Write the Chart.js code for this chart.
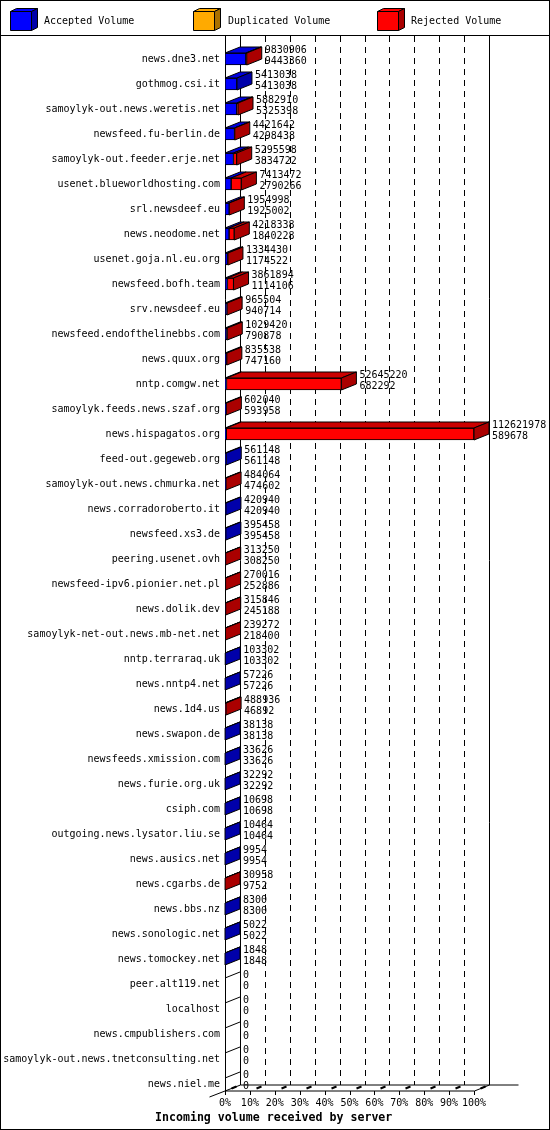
<!DOCTYPE html>
<html>
<head>
<meta charset="utf-8">
<title>Incoming volume received by server</title>
<script src="https://cdn.jsdelivr.net/npm/chart.js@4.4.1/dist/chart.umd.min.js"></script>
<style>
  html, body { margin: 0; padding: 0; background: #fff; }
  canvas { display: block; }
</style>
</head>
<body>
<canvas id="grafico" width="550" height="1130"></canvas>
<script>
// === DADOS ===
const servers = [
  'news.dne3.net', 'gothmog.csi.it', 'samoylyk-out.news.weretis.net', 'newsfeed.fu-berlin.de',
  'samoylyk-out.feeder.erje.net', 'usenet.blueworldhosting.com', 'srl.newsdeef.eu', 'news.neodome.net',
  'usenet.goja.nl.eu.org', 'newsfeed.bofh.team', 'srv.newsdeef.eu', 'newsfeed.endofthelinebbs.com',
  'news.quux.org', 'nntp.comgw.net', 'samoylyk.feeds.news.szaf.org', 'news.hispagatos.org',
  'feed-out.gegeweb.org', 'samoylyk-out.news.chmurka.net', 'news.corradoroberto.it', 'newsfeed.xs3.de',
  'peering.usenet.ovh', 'newsfeed-ipv6.pionier.net.pl', 'news.dolik.dev', 'samoylyk-net-out.news.mb-net.net',
  'nntp.terraraq.uk', 'news.nntp4.net', 'news.1d4.us', 'news.swapon.de',
  'newsfeeds.xmission.com', 'news.furie.org.uk', 'csiph.com', 'outgoing.news.lysator.liu.se',
  'news.ausics.net', 'news.cgarbs.de', 'news.bbs.nz', 'news.sonologic.net',
  'news.tomockey.net', 'peer.alt119.net', 'localhost', 'news.cmpublishers.com',
  'samoylyk-out.news.tnetconsulting.net', 'news.niel.me'
];

// total offered (first number next to each bar)
const offered = [
  9830906, 5413038, 5882910, 4421642, 5295598, 7413472, 1954998, 4218338,
  1334430, 3861894, 965504, 1029420, 835538, 52645220, 602040, 112621978,
  561148, 484064, 420940, 395458, 313250, 270016, 315846, 239272,
  103302, 57226, 488936, 38138, 33626, 32292, 10698, 10464,
  9954, 30958, 8300, 5022, 1848, 0, 0, 0, 0, 0
];

// accepted (second number)
const accepted = [
  9443360, 5413038, 5325398, 4298438, 3834722, 2790266, 1925002, 1840228,
  1174522, 1114106, 940714, 790878, 747160, 682292, 593958, 589678,
  561148, 474602, 420940, 395458, 308250, 252886, 245188, 218400,
  103302, 57226, 46892, 38138, 33626, 32292, 10698, 10464,
  9954, 9752, 8300, 5022, 1848, 0, 0, 0, 0, 0
];

const duplicated = [
  0, 0, 0, 0, 0, 0, 0, 0, 0, 0, 0, 0, 0, 0, 0, 0, 0, 0, 0, 0, 0,
  0, 0, 0, 0, 0, 0, 0, 0, 0, 0, 0, 0, 0, 0, 0, 0, 0, 0, 0, 0, 0
];

// rejected = offered - accepted
const rejected = [
  387546, 0, 557512, 123204, 1460876, 4623206, 29996, 2378110,
  159908, 2747788, 24790, 238542, 88378, 51962928, 8082, 112032300,
  0, 9462, 0, 0, 5000, 17130, 70658, 20872,
  0, 0, 442044, 0, 0, 0, 0, 0,
  0, 21206, 0, 0, 0, 0, 0, 0, 0, 0
];

const tickLabels = ['0%', '10%', '20%', '30%', '40%', '50%', '60%', '70%', '80%', '90%', '100%'];
const axisTitle = 'Incoming volume received by server';

const FONT = "'DejaVu Sans Mono', monospace";
const DX = 15, DY = 6;         // profundidade 3D
const escalaMax = Math.max(...offered);

// cores: frente, topo, lateral
const cores = {
  accepted:   ['#0000ff', '#0000dd', '#0000aa'],
  duplicated: ['#ffaa00', '#dd9400', '#aa7100'],
  rejected:   ['#ff0000', '#cc0000', '#aa0000']
};

function poly(ctx, pts, fill) {
  ctx.beginPath();
  ctx.moveTo(pts[0][0], pts[0][1]);
  for (let i = 1; i < pts.length; i++) ctx.lineTo(pts[i][0], pts[i][1]);
  ctx.closePath();
  if (fill) { ctx.fillStyle = fill; ctx.fill(); }
  ctx.strokeStyle = '#000';
  ctx.lineWidth = 1;
  ctx.stroke();
}

function line(ctx, x1, y1, x2, y2) {
  ctx.beginPath();
  ctx.moveTo(x1, y1);
  ctx.lineTo(x2, y2);
  ctx.stroke();
}

// === PLUGIN 3D ===
const plugin3d = {
  id: 'plugin3d',
  beforeDatasetsDraw(chart) {
    const ctx = chart.ctx;
    const xs = chart.scales.x;
    const area = chart.chartArea;
    const topY = 36;
    const floorY = area.bottom - 5.5;
    ctx.save();
    ctx.strokeStyle = '#000';
    ctx.lineWidth = 1;
    // paredes e grade ao fundo
    xs.ticks.forEach((t, i) => {
      const x = Math.round(xs.getPixelForValue(t.value)) + DX + 0.5;
      ctx.setLineDash(i === 0 || i === xs.ticks.length - 1 ? [] : [6, 5]);
      line(ctx, x, topY, x, floorY - DY);
    });
    ctx.setLineDash([]);
    // eixo da frente
    const x0 = Math.round(area.left) + 0.5;
    line(ctx, x0, topY, x0, floorY);
    // chão
    const xEnd = Math.round(xs.getPixelForValue(escalaMax)) + 0.5;
    line(ctx, x0, floorY, xEnd, floorY);
    line(ctx, x0 + DX, floorY - DY, xEnd + DX + 29, floorY - DY);
    line(ctx, xEnd, floorY, xEnd + DX, floorY - DY);
    line(ctx, x0 - 16, floorY + 6, x0 + DX, floorY - DY);
    xs.ticks.forEach(t => {
      const x = Math.round(xs.getPixelForValue(t.value)) + 0.5;
      line(ctx, x, floorY, x, floorY + 4);
      ctx.lineWidth = 2;
      line(ctx, x + 6, floorY - 2.5, x + 11, floorY - 4.5);
      ctx.lineWidth = 1;
    });
    ctx.restore();
  },
  afterDatasetsDraw(chart) {
    const ctx = chart.ctx;
    const xs = chart.scales.x;
    const metas = [0, 1, 2].map(i => chart.getDatasetMeta(i));
    const chaves = ['accepted', 'duplicated', 'rejected'];
    ctx.save();
    servers.forEach((s, idx) => {
      let yTop = null, yBot = null, ultimo = -1, xFim = null;
      metas.forEach((m, d) => {
        const el = m.data[idx];
        const p = el.getProps(['x', 'y', 'base', 'height'], true);
        yTop = p.y - p.height / 2;
        yBot = p.y + p.height / 2;
        const v = chart.data.datasets[d].data[idx];
        if (v > 0) {
          const xa = Math.min(p.base, p.x), xb = Math.max(p.base, p.x);
          poly(ctx, [[xa, yTop], [xb, yTop], [xb + DX, yTop - DY], [xa + DX, yTop - DY]], cores[chaves[d]][1]);
          ultimo = d;
          xFim = xb;
        }
      });
      const yc = chart.scales.y.getPixelForValue(idx);
      const x0 = xs.getPixelForValue(0);
      if (ultimo >= 0) {
        poly(ctx, [[xFim, yTop], [xFim + DX, yTop - DY], [xFim + DX, yBot - DY], [xFim, yBot]], cores[chaves[ultimo]][2]);
      } else {
        ctx.strokeStyle = '#000';
        line(ctx, x0, yTop, x0 + DX, yTop - DY);
      }
      // valores
      const xt = xs.getPixelForValue(offered[idx]) + DX + 3;
      ctx.fillStyle = '#000';
      ctx.font = '10px ' + FONT;
      ctx.textAlign = 'left';
      ctx.textBaseline = 'middle';
      ctx.fillText(String(offered[idx]), xt, yc - 9);
      ctx.fillText(String(accepted[idx]), xt, yc + 2);
    });
    ctx.restore();
  },
  afterDraw(chart) {
    const ctx = chart.ctx;
    const W = chart.width, H = chart.height;
    ctx.save();
    // moldura e separador da legenda
    ctx.strokeStyle = '#000';
    ctx.lineWidth = 1;
    ctx.strokeRect(0.5, 0.5, W - 1, H - 1);
    line(ctx, 0, 35.5, W, 35.5);
    // legenda com cubos
    const posLegenda = [[10, 44], [193, 228], [377, 411]];
    const chaves = ['accepted', 'duplicated', 'rejected'];
    chart.data.datasets.forEach((ds, i) => {
      const [bx, tx] = posLegenda[i];
      const c = cores[chaves[i]];
      const fx = bx + 0.5, fy = 11.5, fw = 21, fh = 19, d = 6, e = 3;
      poly(ctx, [[fx, fy], [fx + fw, fy], [fx + fw + d, fy - e], [fx + d, fy - e]], c[0]);
      poly(ctx, [[fx + fw, fy], [fx + fw + d, fy - e], [fx + fw + d, fy + fh - e], [fx + fw, fy + fh]], c[2]);
      poly(ctx, [[fx, fy], [fx + fw, fy], [fx + fw, fy + fh], [fx, fy + fh]], c[0]);
      ctx.fillStyle = '#000';
      ctx.font = '10px ' + FONT;
      ctx.textAlign = 'left';
      ctx.textBaseline = 'middle';
      ctx.fillText(ds.label, tx, 21);
    });
    // título do eixo
    ctx.font = 'bold 11.6px ' + FONT;
    ctx.textAlign = 'left';
    ctx.textBaseline = 'middle';
    ctx.fillText(axisTitle, 155, 1118);
    ctx.restore();
  }
};

// === GRÁFICO ===
const ctxGrafico = document.getElementById('grafico').getContext('2d');
Chart.defaults.font.family = FONT;
Chart.defaults.color = '#000';

new Chart(ctxGrafico, {
  type: 'bar',
  data: {
    labels: servers,
    datasets: [
      { label: 'Accepted Volume', data: accepted, backgroundColor: cores.accepted[0] },
      { label: 'Duplicated Volume', data: duplicated, backgroundColor: cores.duplicated[0] },
      { label: 'Rejected Volume', data: rejected, backgroundColor: cores.rejected[0] }
    ].map(ds => Object.assign(ds, {
      borderColor: '#000',
      borderWidth: 1,
      borderSkipped: false,
      barThickness: 12
    }))
  },
  options: {
    indexAxis: 'y',
    responsive: false,
    animation: false,
    devicePixelRatio: 1,
    layout: { padding: { top: 46.5, right: 76, left: 0, bottom: 0 } },
    plugins: {
      legend: { display: false },
      tooltip: { enabled: false }
    },
    scales: {
      x: {
        stacked: true,
        min: 0,
        max: escalaMax,
        grid: { display: false, drawTicks: false },
        border: { display: false },
        afterBuildTicks(scale) {
          scale.ticks = tickLabels.map((_, i) => ({ value: escalaMax * i / 10 }));
        },
        afterFit(scale) { scale.height = 33.5; },
        ticks: {
          autoSkip: false,
          maxRotation: 0,
          padding: 1,
          font: { size: 10 },
          callback: (v, i) => tickLabels[i]
        }
      },
      y: {
        stacked: true,
        grid: { display: false, drawTicks: false },
        border: { display: false },
        afterFit(scale) { scale.width = 225; },
        ticks: {
          autoSkip: false,
          padding: 5,
          font: { size: 10 }
        }
      }
    }
  },
  plugins: [plugin3d]
});
</script>
</body>
</html>
